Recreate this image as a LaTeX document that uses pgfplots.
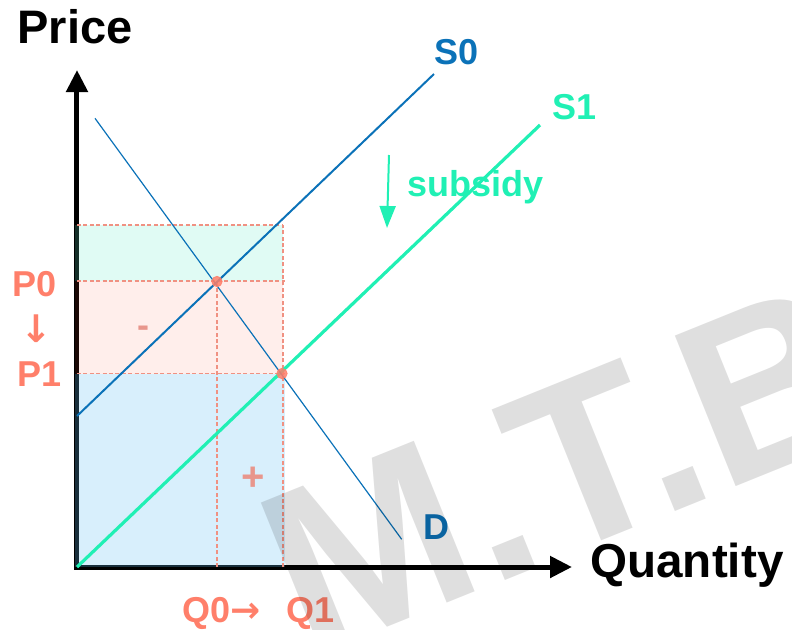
\documentclass[border=0pt]{standalone}
\usepackage{pgfplots}
\pgfplotsset{compat=1.18}
\usepackage{fontspec}
\setmainfont{Liberation Sans}
\newfontfamily\arrowfont{DejaVu Sans}
\usetikzlibrary{arrows.meta}
\definecolor{sblue}{RGB}{11,114,184}
\definecolor{steal}{RGB}{32,240,180}
\definecolor{salmon}{RGB}{255,127,106}
\definecolor{signc}{RGB}{232,150,140}
\definecolor{dashc}{RGB}{240,145,130}
\definecolor{fgreen}{RGB}{100,235,200}
\definecolor{fpink}{RGB}{255,85,56}
\definecolor{fblue}{RGB}{99,190,242}
\begin{document}
\begin{tikzpicture}
\begin{axis}[
  x=0.5pt, y=0.5pt,
  xmin=0, xmax=495, ymin=0, ymax=497,
  axis lines=left,
  axis line style={line width=2.5pt, line cap=rect, -{Triangle[length=11pt,width=10.5pt]}},
  ticks=none,
  clip=false,
]
% shaded areas
\addplot[draw=none, fill=fblue, fill opacity=0.25] coordinates {(-2,0) (208,0) (208,193.5) (-2,193.5)} -- cycle;
\addplot[draw=none, fill=fpink, fill opacity=0.1] coordinates {(-2,193.5) (206,193.5) (206,286) (-2,286)} -- cycle;
\addplot[draw=none, fill=fgreen, fill opacity=0.2] coordinates {(-2,286) (206,286) (206,342) (-2,342)} -- cycle;
% dashed guides
\addplot[dashc, line width=0.55pt, dash pattern=on 2pt off 1.2pt] coordinates {(0,342) (206,342)};
\addplot[dashc, line width=0.55pt, dash pattern=on 2pt off 1.2pt] coordinates {(0,286) (208,286)};
\addplot[dashc, line width=0.55pt, dash pattern=on 2pt off 1.2pt] coordinates {(0,193.5) (208,193.5)};
\addplot[dashc, line width=0.55pt, dash pattern=on 2pt off 1.2pt] coordinates {(140,0) (140,286)};
\addplot[dashc, line width=0.55pt, dash pattern=on 2pt off 1.2pt] coordinates {(206,0) (206,342)};
% curves
\addplot[sblue, line width=1pt] coordinates {(0,151) (357,493)};
\addplot[steal, line width=1.6pt] coordinates {(0,0) (463,442)};
\addplot[sblue, line width=0.6pt] coordinates {(18,448.7) (324.7,27.7)};
% equilibrium points
\addplot[only marks, mark=*, mark size=2.6pt, color=salmon, opacity=0.85] coordinates {(140,285.5) (205,193.5)};
% subsidy arrow
\addplot[steal, line width=1pt, -{Triangle[length=11pt,width=8pt]}] coordinates {(312,412) (310,339)};
% labels
\tikzset{lbl/.style={anchor=base west, inner sep=0pt}}
\node[lbl, font=\fontsize{23.5}{28}\selectfont\bfseries] at (axis cs:-60,524) {Price};
\node[lbl, font=\fontsize{23.8}{28}\selectfont\bfseries] at (axis cs:513,-10) {Quantity};
\node[lbl, text=sblue, font=\fontsize{18}{22}\selectfont\bfseries] at (axis cs:357,503) {S0};
\node[lbl, text=steal, font=\fontsize{18}{22}\selectfont\bfseries] at (axis cs:475,448) {S1};
\node[lbl, text=steal, font=\fontsize{18}{22}\selectfont\bfseries] at (axis cs:330,371) {subsidy};
\node[lbl, text=sblue, font=\fontsize{18}{22}\selectfont\bfseries] at (axis cs:346,28) {D};
\node[lbl, text=salmon, font=\fontsize{18}{22}\selectfont\bfseries] at (axis cs:-65,271) {P0};
\node[inner sep=0pt, text=salmon, font=\fontsize{19}{22}\selectfont\arrowfont\bfseries] at (axis cs:-41,238) {↓};
\node[lbl, text=salmon, font=\fontsize{18}{22}\selectfont\bfseries] at (axis cs:-60,181) {P1};
\node[lbl, text=salmon, font=\fontsize{18}{22}\selectfont\bfseries] at (axis cs:105,-55) {Q0{\arrowfont\fontsize{18}{22}\selectfont\bfseries →}\hspace{0.45em} Q1};
\node[text=signc, font=\fontsize{18}{22}\selectfont\bfseries] at (axis cs:66,235) {-};
\node[text=signc, font=\fontsize{20}{24}\selectfont\bfseries] at (axis cs:176,88) {+};
\coordinate (bl) at (axis cs:-77,-62);
\coordinate (tr) at (axis cs:715,567);
\coordinate (wm) at (axis cs:230.4,-93);
\end{axis}
\begin{scope}
\clip (bl) rectangle (tr);
\node[rotate=22, anchor=base west, inner sep=0pt, text=black, opacity=0.125, font=\fontsize{118}{130}\selectfont\bfseries] at (wm) {M.T.B};
\end{scope}
\pgfresetboundingbox
\path[use as bounding box] (bl) rectangle (tr);
\end{tikzpicture}
\end{document}
